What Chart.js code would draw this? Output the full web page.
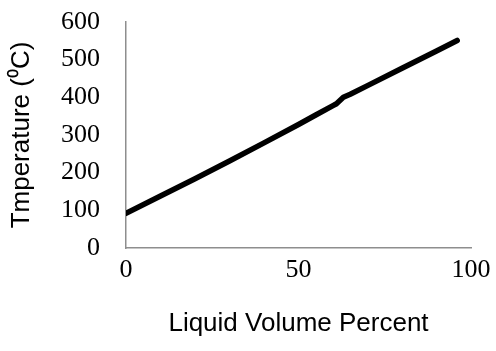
<!DOCTYPE html>
<html>
<head>
<meta charset="utf-8">
<script src="https://cdn.jsdelivr.net/npm/chart.js@4/dist/chart.umd.min.js"></script>
<style>
    html, body { margin: 0; padding: 0; background: #fff; }
    #wrap { width: 496px; height: 351px; position: relative; }
</style>
</head>
<body>
<div id="wrap"><canvas id="tempChart"></canvas></div>
<script>
// Chart data
const volumePercent = [0, 10, 20, 30, 40, 50, 55, 60, 61, 63, 65, 70, 80, 90, 96];
const temperature = [92, 138, 184, 231, 279, 328, 353, 378, 383, 400, 408, 431, 477, 523, 551];
const xTicks = [0, 50, 100];
const yTicks = [0, 100, 200, 300, 400, 500, 600];

document.addEventListener('DOMContentLoaded', function() {
    initChart();
});

function initChart() {
    const ctx = document.getElementById('tempChart').getContext('2d');
    const axisColor = '#8e8e8e';
    const tickFont = { family: "'Liberation Serif', serif", size: 26 };
    const titleFont = { family: "'Liberation Sans', Arial, sans-serif", size: 26 };

    const points = volumePercent.map((x, i) => ({ x: x, y: temperature[i] }));

    new Chart(ctx, {
        type: 'line',
        data: {
            datasets: [{
                data: points,
                borderColor: '#000',
                borderWidth: 5.5,
                borderCapStyle: 'round',
                borderJoinStyle: 'round',
                pointRadius: 0,
                fill: false,
                tension: 0
            }]
        },
        options: {
            responsive: true,
            maintainAspectRatio: false,
            animation: false,
            layout: { padding: { top: 22, right: 25, left: 0, bottom: 0 } },
            plugins: {
                legend: { display: false },
                tooltip: { enabled: false }
            },
            scales: {
                x: {
                    type: 'linear',
                    min: 0,
                    max: 100,
                    afterBuildTicks: (axis) => { axis.ticks = xTicks.map(v => ({ value: v })); },
                    afterFit: (axis) => {
                        axis.height = 103;
                        axis.paddingLeft = 0;
                        axis.paddingRight = 0;
                    },
                    grid: { display: false, drawTicks: false },
                    border: { display: true, color: axisColor, width: 1.5 },
                    ticks: { font: tickFont, color: '#000', padding: 7, maxRotation: 0 },
                    title: {
                        display: true,
                        text: 'Liquid Volume Percent',
                        font: titleFont,
                        color: '#000',
                        padding: { top: 0, bottom: 12 }
                    }
                },
                y: {
                    min: 0,
                    max: 600,
                    afterBuildTicks: (axis) => { axis.ticks = yTicks.map(v => ({ value: v })); },
                    afterFit: (axis) => {
                        axis.width = 126;
                        axis.paddingTop = 0;
                        axis.paddingBottom = 0;
                    },
                    grid: { display: false, drawTicks: false },
                    border: { display: true, color: axisColor, width: 1.5 },
                    ticks: { font: tickFont, color: '#000', padding: 26 },
                    title: {
                        display: true,
                        text: 'Tmperature (\u2070C)',
                        font: titleFont,
                        color: '#000',
                        padding: { top: 6, bottom: 0 }
                    }
                }
            }
        }
    });
}
</script>
</body>
</html>
